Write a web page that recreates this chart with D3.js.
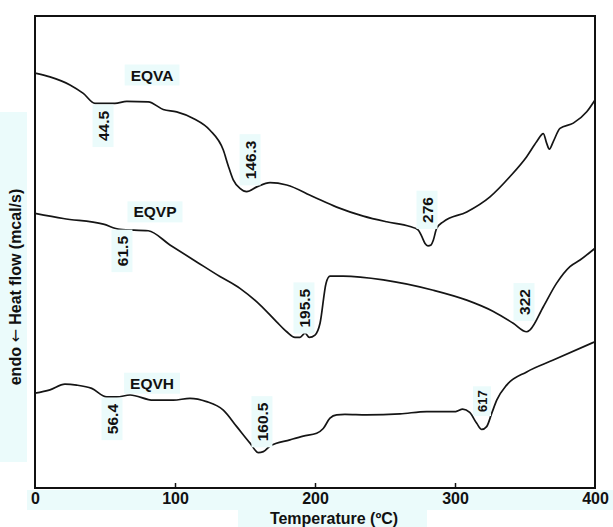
<!DOCTYPE html>
<html>
<head>
<meta charset="utf-8">
<script src="https://cdn.jsdelivr.net/npm/d3@7"></script>
<style>
  html, body { margin: 0; padding: 0; background: #fff; }
  svg { display: block; font-family: "Liberation Sans", Arial, sans-serif; }
</style>
</head>
<body>
<svg id="chart" width="613" height="527"></svg>
<script>
/* DSC thermograms of EQVA, EQVP and EQVH, stacked on one heat-flow axis. */

// Temperature (ºC) and heat flow (arbitrary offset units).
const eqvaTemp = [0, 10.7, 25, 34.5, 42.9, 57.1, 65.5, 80.9, 91.6, 101.2, 113.1, 125, 134.5, 137.9, 141.6, 146.4, 151.2, 158.4, 167.9, 179.8, 198.8, 215.5, 234.5, 251.2, 267.9, 273.6, 276.1, 278.6, 280.7, 282.9, 284.5, 286.9, 291.6, 308.4, 325, 339.3, 351.2, 358.4, 363.1, 365.5, 367.4, 370.2, 375, 384.5, 394.1, 400];
const eqvaFlow = [87.9, 87.1, 85.4, 83.6, 81.5, 81.5, 81.9, 81.8, 80.2, 79.7, 78.3, 75.8, 71.6, 68.4, 65.3, 63.5, 62.8, 63.8, 64.7, 64.2, 61.7, 59.5, 57.6, 56.4, 55.4, 54.7, 53.4, 51.8, 51.3, 51.5, 52.5, 55.0, 56.4, 58.5, 61.7, 66.0, 70.2, 73.4, 75.1, 73.0, 71.8, 73.4, 76.2, 77.3, 79.7, 82.2];

const eqvpTemp = [0, 20.2, 48.8, 60.7, 80.9, 96.4, 115.5, 132.1, 146.4, 160.7, 172.6, 179.8, 185.7, 189.3, 192.9, 195.9, 200, 203.6, 207.9, 210.7, 220.2, 248.8, 284.5, 308.4, 327.4, 341.6, 351.2, 353.6, 363.1, 372.6, 382.1, 389.3, 400];
const eqvpFlow = [58.2, 57.1, 55.9, 54.8, 54.5, 51.5, 47.9, 44.8, 42.3, 38.8, 35.2, 33.1, 31.9, 31.9, 32.8, 31.9, 32.4, 34.9, 43.4, 44.9, 44.9, 44.1, 41.9, 39.8, 37.4, 34.9, 33.1, 33.5, 38.4, 43.4, 46.9, 48.3, 50.8];

const eqvhTemp = [0, 10.7, 21.4, 29.8, 40.5, 51.2, 58.4, 67.9, 84.5, 98.8, 110.7, 122.6, 134.5, 144.1, 153.6, 159.5, 163.1, 167.9, 182.1, 191.6, 201.2, 205.9, 210.7, 215.5, 221.4, 236.9, 260.7, 279.8, 300.5, 305.5, 310.5, 315.5, 319.1, 322.6, 326.2, 329.8, 336.9, 351.2, 370.2, 400];
const eqvhFlow = [20.1, 20.8, 22.0, 21.8, 21.1, 19.3, 19.3, 19.7, 18.6, 18.6, 19.0, 18.3, 16.5, 13.0, 9.5, 7.5, 7.7, 8.9, 10.2, 11.0, 11.6, 12.6, 14.8, 15.5, 15.6, 15.5, 15.7, 16.2, 16.2, 16.7, 16.0, 13.7, 12.4, 13.0, 15.8, 18.6, 21.8, 24.6, 27.1, 31.0];

const seriesNames = ["EQVA", "EQVP", "EQVH"];
const nameTemp = [83.6, 85.7, 83.6];
const nameFlow = [87.5, 58.5, 22.2];

// Peak temperature labels (printed rotated next to each event).
const peakText = ["44.5", "146.3", "276", "61.5", "195.5", "322", "56.4", "160.5", "617"];
const peakTemp = [48.6, 153.6, 280, 62.1, 192.1, 349.3, 55, 162.1, 319.3];
const peakFlow = [76.7, 69.5, 58.9, 50.2, 38.1, 39.4, 14.6, 14.0, 18.4];

const xTicks = [0, 100, 200, 300, 400];

const W = 613, H = 527;
const margin = { top: 16, right: 18, bottom: 39, left: 35 };
const band = "#ebfbfb";

const svg = d3.select("#chart");

const x = d3.scaleLinear().domain([0, 400]).range([margin.left, W - margin.right]);
const y = d3.scaleLinear().domain([0, 100]).range([H - margin.bottom, margin.top]);

// Pale highlight strips behind the axis texts (scanned figure look).
svg.append("rect").attr("x", 27).attr("y", 490).attr("width", W - 27).attr("height", 20).attr("fill", band);
svg.append("rect").attr("x", 238).attr("y", 510).attr("width", 189).attr("height", 17).attr("fill", band);
svg.append("rect").attr("x", 0).attr("y", 112).attr("width", 27).attr("height", 350).attr("fill", band);

// Frame.
svg.append("rect")
  .attr("x", x(0)).attr("y", y(100))
  .attr("width", x(400) - x(0)).attr("height", y(0) - y(100))
  .attr("fill", "none").attr("stroke", "#111").attr("stroke-width", 2);

// X axis: short ticks pointing up into the plot.
const xAxis = svg.append("g")
  .attr("transform", `translate(0,${y(0)})`)
  .call(d3.axisBottom(x).tickValues(xTicks).tickSize(-5).tickPadding(5).tickFormat(d3.format("d")));
xAxis.select(".domain").remove();
xAxis.selectAll(".tick line").attr("stroke", "#111").attr("stroke-width", 1.5)
  .filter(d => d === 0 || d === 400).remove();
xAxis.selectAll(".tick text")
  .attr("fill", "#111").attr("font-size", 16).attr("font-weight", "bold")
  .attr("font-family", "'Liberation Sans', Arial, sans-serif");

svg.append("text")
  .attr("x", 334).attr("y", 524)
  .attr("text-anchor", "middle")
  .attr("font-size", 16).attr("font-weight", "bold").attr("fill", "#111")
  .text("Temperature (ºC)");

const yTitle = svg.append("text")
  .attr("transform", "translate(21,287) rotate(-90)")
  .attr("text-anchor", "middle")
  .attr("font-size", 16).attr("font-weight", "bold").attr("fill", "#111");
yTitle.append("tspan").text("endo ");
yTitle.append("tspan").attr("font-family", "'DejaVu Sans', sans-serif").attr("font-weight", "normal").text("\u2190");
yTitle.append("tspan").text(" Heat flow (mcal/s)");

// Curves.
const line = d3.line()
  .x(d => x(d[0]))
  .y(d => y(d[1]))
  .curve(d3.curveMonotoneX);

const curves = [
  d3.zip(eqvaTemp, eqvaFlow),
  d3.zip(eqvpTemp, eqvpFlow),
  d3.zip(eqvhTemp, eqvhFlow),
];

svg.append("g")
  .selectAll("path")
  .data(curves)
  .join("path")
  .attr("d", line)
  .attr("fill", "none")
  .attr("stroke", "#151515")
  .attr("stroke-width", 1.7)
  .attr("stroke-linejoin", "round");

// Series names with their pale boxes.
seriesNames.forEach((name, i) => {
  const g = svg.append("g").attr("transform", `translate(${x(nameTemp[i])},${y(nameFlow[i])})`);
  const rect = g.append("rect").attr("fill", band);
  const t = g.append("text")
    .attr("text-anchor", "middle").attr("dy", "0.36em")
    .attr("font-size", 15.5).attr("font-weight", "bold").attr("fill", "#111")
    .text(name);
  const b = t.node().getBBox();
  rect.attr("x", b.x - 6).attr("y", -10.5).attr("width", b.width + 12).attr("height", 21);
});

// Rotated peak labels.
peakText.forEach((label, i) => {
  const small = label === "617";
  const g = svg.append("g")
    .attr("transform", `translate(${x(peakTemp[i])},${y(peakFlow[i])}) rotate(-90)`);
  const rect = g.append("rect").attr("fill", band);
  const t = g.append("text")
    .attr("text-anchor", "middle").attr("dy", "0.36em")
    .attr("font-size", small ? 13 : 15.5).attr("font-weight", "bold")
    .attr("fill", "#111")
    .text(label);
  const b = t.node().getBBox();
  rect.attr("x", b.x - (small ? 4 : 6)).attr("y", small ? -9 : -10.5)
    .attr("width", b.width + (small ? 8 : 12)).attr("height", small ? 18 : 21);
});
</script>
</body>
</html>
